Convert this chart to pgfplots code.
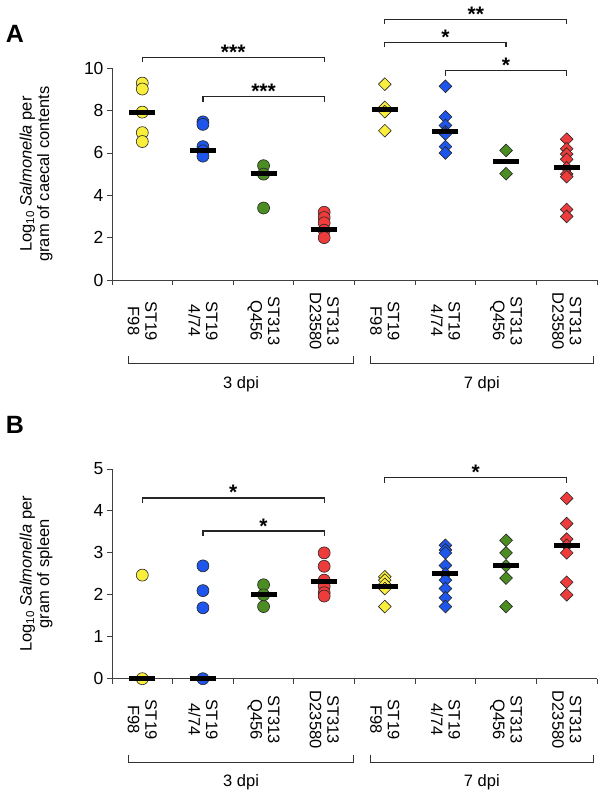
\documentclass[border=0pt]{standalone}
\usepackage{fontspec}
\setmainfont{Liberation Sans}
\usepackage{pgfplots}
\pgfplotsset{compat=1.18}
\definecolor{cy}{RGB}{250,238,60}
\definecolor{cb}{RGB}{30,85,235}
\definecolor{cg}{RGB}{75,140,35}
\definecolor{cr}{RGB}{238,60,60}
\newcommand{\sig}[5]{%
  \draw[line width=1.3pt, black!85] ([yshift=-5pt]axis cs:#1,#3) -- (axis cs:#1,#3) -- (axis cs:#2,#3) -- ([yshift=-5pt]axis cs:#2,#3);
  \node[anchor=base, font=\bfseries\fontsize{21}{21}\selectfont, inner sep=0pt] at ([yshift=-2pt]axis cs:#4,#3) {#5};
}
\newcommand{\grp}[4]{%
  \draw[line width=1pt, black!80] ([yshift=-76pt]axis cs:#1,0) -- ([yshift=-84pt]axis cs:#1,0) -- ([yshift=-84pt]axis cs:#2,0) -- ([yshift=-76pt]axis cs:#2,0);
  \node[anchor=center, font=\fontsize{16.5}{17}\selectfont] at ([yshift=-104pt]axis cs:#3,0) {#4};
}
\pgfplotsset{
  panel/.style={
    scale only axis, width=485pt,
    xmin=0, xmax=8,
    axis x line*=bottom, axis y line*=left,
    axis line style={black!75, line width=0.9pt},
    tick align=outside,
    major tick length=5pt, minor tick length=5pt,
    tick style={black!75, line width=0.9pt},
    xtick={0.5,1.5,2.5,3.5,4.5,5.5,6.5,7.5},
    xticklabels={ST19\\F98, ST19\\4/74, ST313\\Q456, ST313\\D23580, ST19\\F98, ST19\\4/74, ST313\\Q456, ST313\\D23580},
    minor xtick={0,1,...,8},
    major x tick style={draw=none},
    xticklabel style={yshift=-36pt, rotate=-90, align=center, anchor=center, font=\fontsize{16.5}{17.5}\selectfont},
    yticklabel style={font=\fontsize{17.5}{18}\selectfont},
    /pgf/number format/assume math mode=true,
    every axis y label/.style={at={(axis description cs:0,0.5)}, xshift=-76pt, rotate=90, anchor=center, align=center, font=\fontsize{16.5}{17.5}\selectfont},
    clip=false,
  },
  circ/.style={only marks, mark=*, mark size=6pt, mark options={draw=black!85, line width=0.6pt, fill=#1}},
  diam/.style={only marks, mark=square*, mark size=4.5pt, mark options={rotate=45, draw=black!85, line width=0.6pt, fill=#1}},
  med/.style={only marks, mark=-, mark size=13pt, mark options={line width=5pt, black}},
}
\begin{document}
\begin{tikzpicture}
\useasboundingbox (0,0) rectangle (606pt,799pt);
\node[font=\bfseries\fontsize{25}{25}\selectfont] at (15pt,765pt) {A};
\node[font=\bfseries\fontsize{25}{25}\selectfont] at (15pt,374pt) {B};
% Panel A
\begin{axis}[panel, at={(112pt,519pt)}, anchor=south west, height=211.7pt,
  ymin=0, ymax=10, ytick={0,2,...,10},
  ylabel={Log\textsubscript{10} \textit{Salmonella} per\\gram of caecal contents}]
\addplot[circ=cy] coordinates {(0.5,9.3) (0.5,9.02) (0.5,7.93) (0.5,6.96) (0.5,6.54)};
\addplot[circ=cb] coordinates {(1.5,7.47) (1.5,7.35) (1.5,6.3) (1.5,6.1) (1.5,5.85)};
\addplot[circ=cg] coordinates {(2.5,5.4) (2.5,5.0) (2.5,3.4)};
\addplot[circ=cr] coordinates {(3.5,3.2) (3.5,2.95) (3.5,2.7) (3.5,2.35) (3.5,2.0)};
\addplot[diam=cy] coordinates {(4.5,9.25) (4.5,8.15) (4.5,7.95) (4.5,7.05)};
\addplot[diam=cb] coordinates {(5.5,9.15) (5.5,7.7) (5.5,7.3) (5.5,7.0) (5.5,6.9) (5.5,6.3) (5.5,6.0)};
\addplot[diam=cg] coordinates {(6.5,6.12) (6.5,5.02)};
\addplot[diam=cr] coordinates {(7.5,6.65) (7.5,6.2) (7.5,5.95) (7.5,5.7) (7.5,5.3) (7.5,5.0) (7.5,4.88) (7.5,3.33) (7.5,3.0)};
\addplot[med] coordinates {(0.5,7.93) (1.5,6.12) (2.5,5.01) (3.5,2.38) (4.5,8.05) (5.5,7.02) (6.5,5.58) (7.5,5.32)};
\sig{0.5}{3.5}{10.52}{2.0}{***}
\sig{1.5}{3.5}{8.66}{2.5}{***}
\sig{4.5}{7.5}{12.32}{6.0}{**}
\sig{4.5}{6.5}{11.22}{5.5}{*}
\sig{5.5}{7.5}{9.89}{6.5}{*}
\grp{0.28}{3.98}{2.13}{3 dpi}
\grp{4.26}{7.94}{6.10}{7 dpi}
\end{axis}
% Panel B
\begin{axis}[panel, at={(112pt,120.3pt)}, anchor=south west, height=209.7pt,
  ymin=0, ymax=5, ytick={0,1,...,5},
  ylabel={Log\textsubscript{10} \textit{Salmonella} per\\gram of spleen}]
\addplot[circ=cy] coordinates {(0.5,2.47) (0.5,0)};
\addplot[circ=cb] coordinates {(1.5,2.69) (1.5,2.1) (1.5,1.69) (1.5,0)};
\addplot[circ=cg] coordinates {(2.5,2.24) (2.5,2.0) (2.5,1.72)};
\addplot[circ=cr] coordinates {(3.5,3.0) (3.5,2.68) (3.5,2.35) (3.5,2.2) (3.5,2.05) (3.5,1.97)};
\addplot[diam=cy] coordinates {(4.5,2.43) (4.5,2.35) (4.5,2.25) (4.5,2.15) (4.5,1.72)};
\addplot[diam=cb] coordinates {(5.5,3.18) (5.5,3.07) (5.5,3.0) (5.5,2.7) (5.5,2.5) (5.5,2.35) (5.5,2.15) (5.5,1.93) (5.5,1.72)};
\addplot[diam=cg] coordinates {(6.5,3.3) (6.5,3.0) (6.5,2.69) (6.5,2.4) (6.5,1.72)};
\addplot[diam=cr] coordinates {(7.5,4.3) (7.5,3.7) (7.5,3.33) (7.5,3.18) (7.5,3.0) (7.5,2.3) (7.5,2.0)};
\addplot[med] coordinates {(0.5,0) (1.5,0) (2.5,2.01) (3.5,2.31) (4.5,2.21) (5.5,2.5) (6.5,2.69) (7.5,3.18)};
\sig{0.5}{3.5}{4.31}{2.0}{*}
\sig{1.5}{3.5}{3.52}{2.5}{*}
\sig{4.5}{7.5}{4.79}{6.0}{*}
\grp{0.28}{3.98}{2.13}{3 dpi}
\grp{4.26}{7.94}{6.10}{7 dpi}
\end{axis}
\end{tikzpicture}
\end{document}
